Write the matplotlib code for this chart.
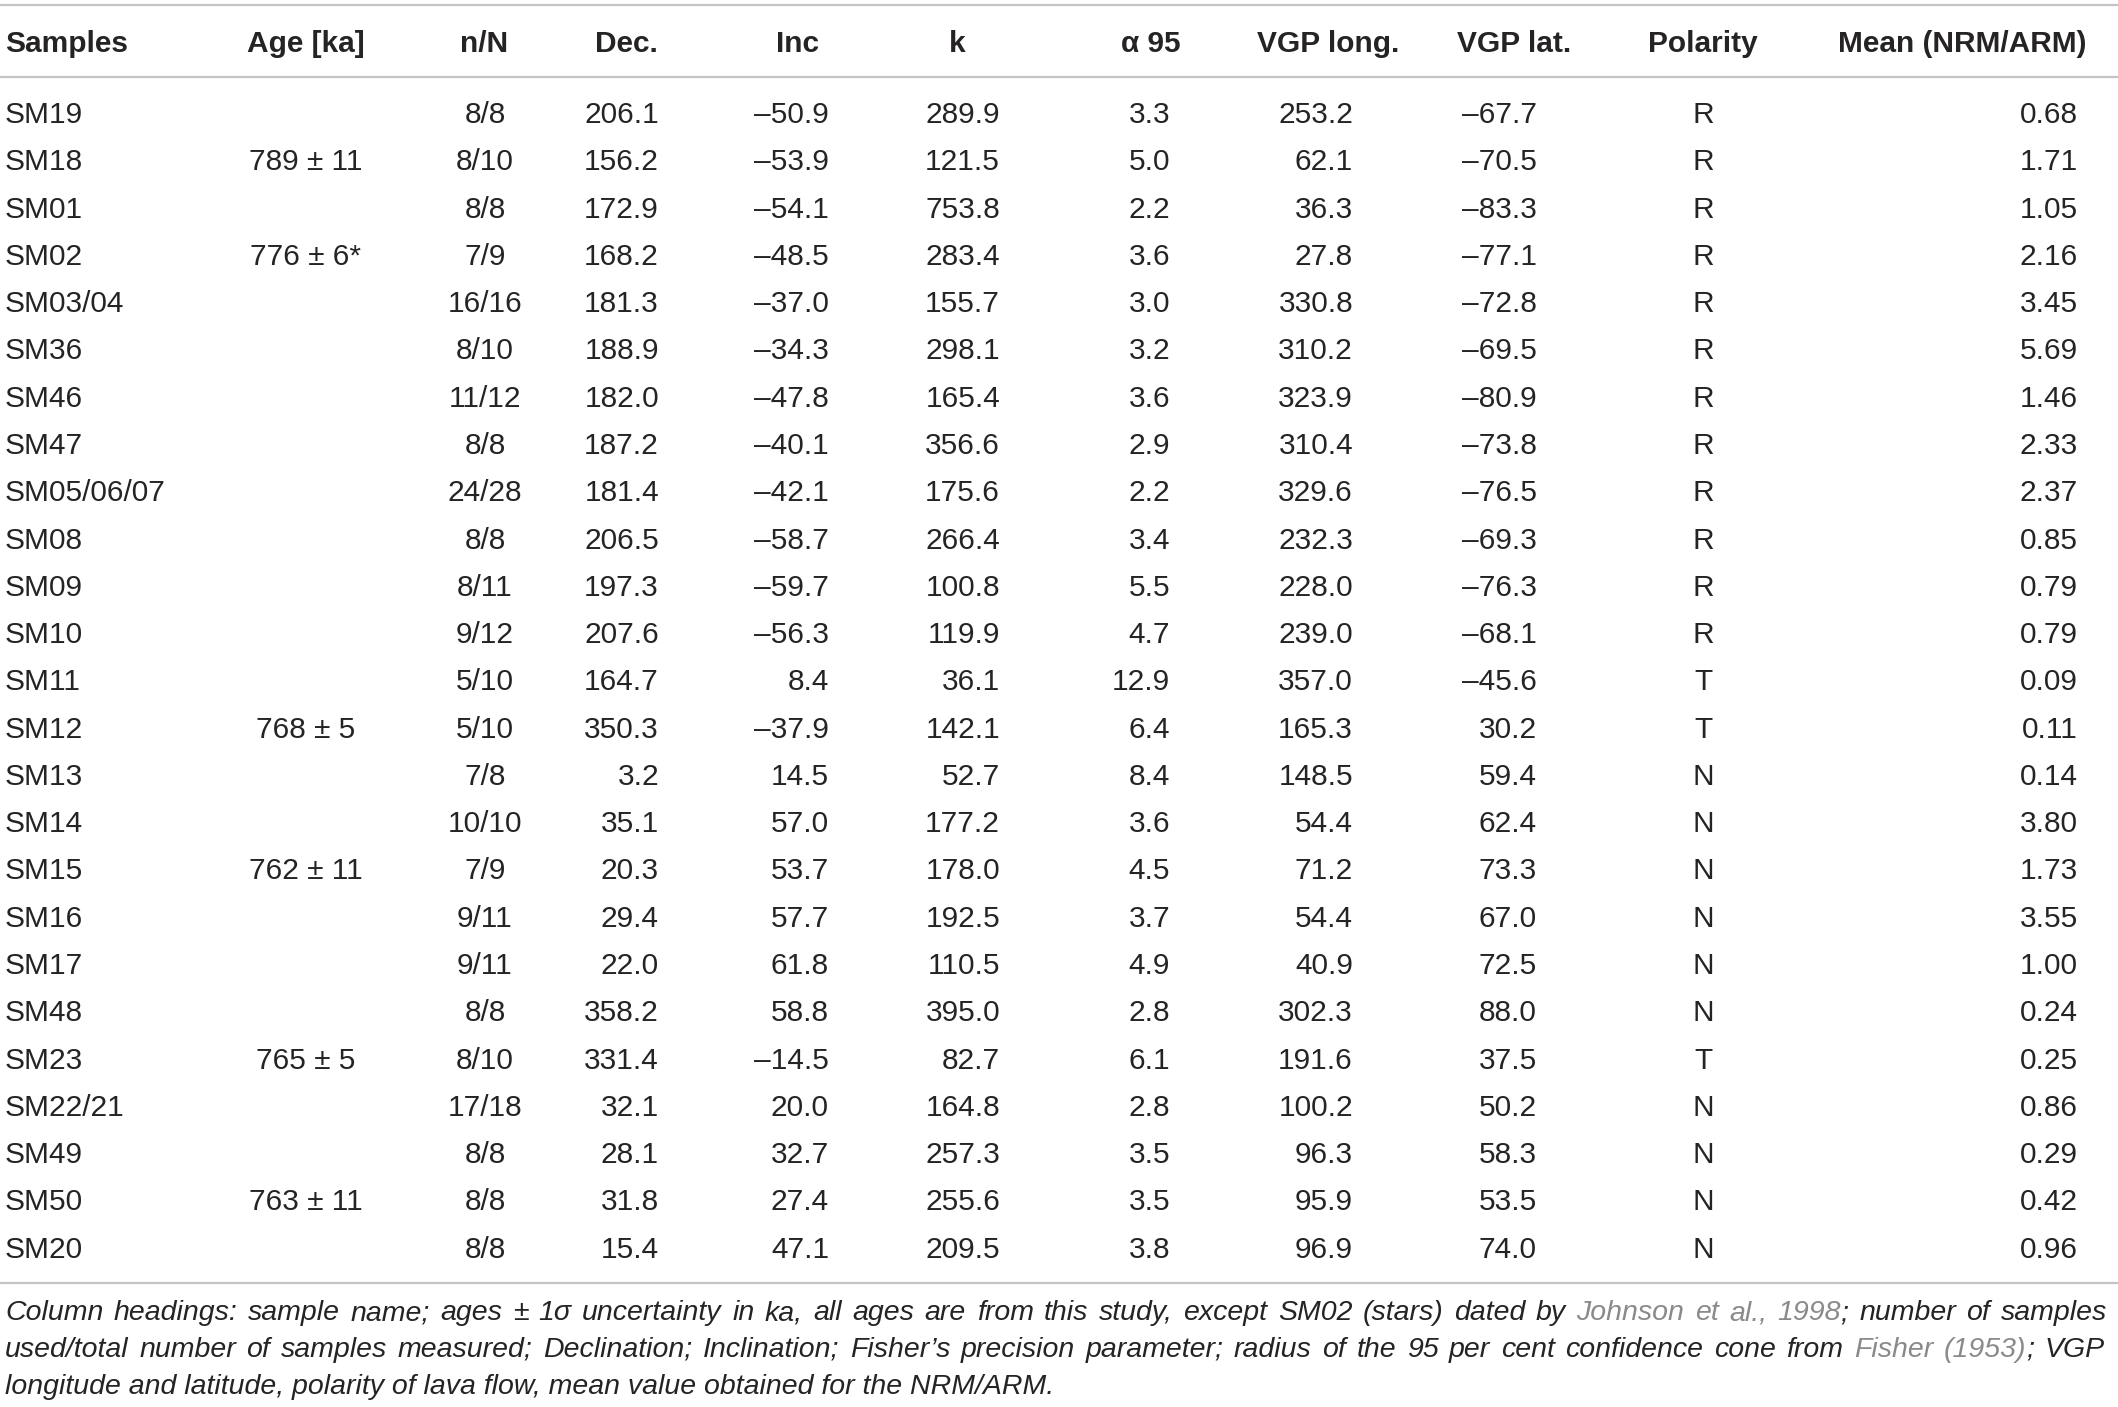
import matplotlib
matplotlib.use("Agg")
import matplotlib.pyplot as plt

plt.rcParams["font.family"] = ["Liberation Sans", "DejaVu Sans"]

# table data
samples = ["SM19", "SM18", "SM01", "SM02", "SM03/04", "SM36", "SM46", "SM47",
           "SM05/06/07", "SM08", "SM09", "SM10", "SM11", "SM12", "SM13", "SM14",
           "SM15", "SM16", "SM17", "SM48", "SM23", "SM22/21", "SM49", "SM50", "SM20"]
ages = ["", "789 ± 11", "", "776 ± 6*", "", "", "", "", "", "", "", "", "",
        "768 ± 5", "", "", "762 ± 11", "", "", "", "765 ± 5", "", "", "763 ± 11", ""]
n_N = ["8/8", "8/10", "8/8", "7/9", "16/16", "8/10", "11/12", "8/8", "24/28", "8/8",
       "8/11", "9/12", "5/10", "5/10", "7/8", "10/10", "7/9", "9/11", "9/11", "8/8",
       "8/10", "17/18", "8/8", "8/8", "8/8"]
dec = [206.1, 156.2, 172.9, 168.2, 181.3, 188.9, 182.0, 187.2, 181.4, 206.5,
       197.3, 207.6, 164.7, 350.3, 3.2, 35.1, 20.3, 29.4, 22.0, 358.2,
       331.4, 32.1, 28.1, 31.8, 15.4]
inc = [-50.9, -53.9, -54.1, -48.5, -37.0, -34.3, -47.8, -40.1, -42.1, -58.7,
       -59.7, -56.3, 8.4, -37.9, 14.5, 57.0, 53.7, 57.7, 61.8, 58.8,
       -14.5, 20.0, 32.7, 27.4, 47.1]
kappa = [289.9, 121.5, 753.8, 283.4, 155.7, 298.1, 165.4, 356.6, 175.6, 266.4,
         100.8, 119.9, 36.1, 142.1, 52.7, 177.2, 178.0, 192.5, 110.5, 395.0,
         82.7, 164.8, 257.3, 255.6, 209.5]
a95 = [3.3, 5.0, 2.2, 3.6, 3.0, 3.2, 3.6, 2.9, 2.2, 3.4, 5.5, 4.7, 12.9, 6.4, 8.4,
       3.6, 4.5, 3.7, 4.9, 2.8, 6.1, 2.8, 3.5, 3.5, 3.8]
vgp_long = [253.2, 62.1, 36.3, 27.8, 330.8, 310.2, 323.9, 310.4, 329.6, 232.3,
            228.0, 239.0, 357.0, 165.3, 148.5, 54.4, 71.2, 54.4, 40.9, 302.3,
            191.6, 100.2, 96.3, 95.9, 96.9]
vgp_lat = [-67.7, -70.5, -83.3, -77.1, -72.8, -69.5, -80.9, -73.8, -76.5, -69.3,
           -76.3, -68.1, -45.6, 30.2, 59.4, 62.4, 73.3, 67.0, 72.5, 88.0,
           37.5, 50.2, 58.3, 53.5, 74.0]
polarity = ["R"] * 12 + ["T", "T", "N", "N", "N", "N", "N", "N", "T", "N", "N", "N", "N"]
mean_ratio = [0.68, 1.71, 1.05, 2.16, 3.45, 5.69, 1.46, 2.33, 2.37, 0.85, 0.79, 0.79,
              0.09, 0.11, 0.14, 3.80, 1.73, 3.55, 1.00, 0.24, 0.25, 0.86, 0.29, 0.42, 0.96]

headers = ["Samples", "Age [ka]", "n/N", "Dec.", "Inc", "k", "α 95",
           "VGP long.", "VGP lat.", "Polarity", "Mean (NRM/ARM)"]


def fmt(v, nd=1):
    s = f"{abs(v):.{nd}f}"
    return ("\u2013" + s) if v < 0 else s


columns = [
    samples, ages, n_N,
    [fmt(v) for v in dec], [fmt(v) for v in inc], [fmt(v) for v in kappa],
    [fmt(v) for v in a95], [fmt(v) for v in vgp_long], [fmt(v) for v in vgp_lat],
    polarity, [fmt(v, 2) for v in mean_ratio],
]

# x position / alignment for cells and headers (pixels)
cell_pos = [(5, "left"), (306, "center"), (485, "center"), (659, "right"),
            (829, "right"), (1000, "right"), (1170, "right"), (1353, "right"),
            (1537, "right"), (1703, "center"), (2078, "right")]
head_pos = [(5, "left"), (306, "center"), (484, "center"), (658, "right"),
            (797, "center"), (957, "center"), (1151, "center"), (1328, "center"),
            (1514, "center"), (1703, "center"), (2087, "right")]

W, H = 2118, 1407
fig = plt.figure(figsize=(W / 100, H / 100), dpi=100)
fig.patch.set_facecolor("white")
ax = fig.add_axes([0, 0, 1, 1])
ax.set_xlim(0, W)
ax.set_ylim(H, 0)
ax.axis("off")

txt = "#262324"
rule = "#c4c4c4"
fs = 21.5

# rules
for yy in (5, 77, 1283):
    ax.plot([0, W], [yy, yy], color=rule, lw=1.6, solid_capstyle="butt")

# header
for (x, ha), h in zip(head_pos, headers):
    ax.text(x, 52, h, ha=ha, va="baseline", fontsize=fs, fontweight="bold", color=txt)

# body rows
row0, step = 123, 47.28
for j, col in enumerate(columns):
    x, ha = cell_pos[j]
    for i, val in enumerate(col):
        if val:
            ax.text(x, row0 + i * step, val, ha=ha, va="baseline",
                    fontsize=fs, color=txt)

# caption (first two lines justified word by word, links in grey)
link = "#8a8a8a"
cap_fs = 20.5
cap_lines = [
    [("Column headings: sample name; ages ± 1σ uncertainty in ka, all ages are from this study, except SM02 (stars) dated by", txt),
     ("Johnson et al., 1998", link), ("; number of samples", txt)],
    [("used/total number of samples measured; Declination; Inclination; Fisher’s precision parameter; radius of the 95 per cent confidence cone from", txt),
     ("Fisher (1953)", link), ("; VGP", txt)],
    [("longitude and latitude, polarity of lava flow, mean value obtained for the NRM/ARM.", txt)],
]
cap_y = [1320, 1357, 1394]
cap_right = [2107, 2105, None]
renderer = fig.canvas.get_renderer()

for yy, segs, right in zip(cap_y, cap_lines, cap_right):
    if right is None:
        ax.text(5, yy, segs[0][0], ha="left", va="baseline", fontsize=cap_fs,
                style="italic", color=segs[0][1])
        continue
    # split into words; a segment starting with ';' glues to the previous word
    words = []
    for s, c in segs:
        parts = s.split(" ")
        for k, p in enumerate(parts):
            glue = (k == 0 and p.startswith(";"))
            words.append((p, c, glue))
    arts = []
    for p, c, glue in words:
        t = ax.text(0, yy, p, ha="left", va="baseline", fontsize=cap_fs,
                    style="italic", color=c)
        arts.append((t, t.get_window_extent(renderer).width, glue))
    n_gaps = sum(1 for a in arts[1:] if not a[2])
    total = sum(a[1] for a in arts)
    gap = (right - 5 - total) / n_gaps
    x = 5
    for i, (t, w, glue) in enumerate(arts):
        if i > 0 and not glue:
            x += gap
        t.set_x(x)
        x += w

fig.savefig("out.png", dpi=100, facecolor="white")
